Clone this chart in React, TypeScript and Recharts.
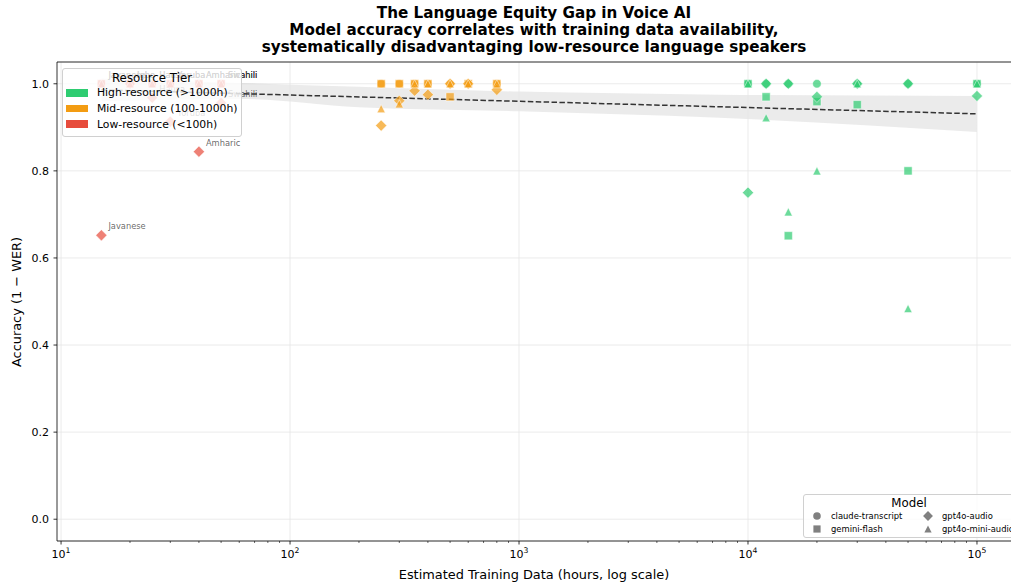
import React from "react";
import {
  ComposedChart,
  Area,
  Line,
  Scatter,
  XAxis,
  YAxis,
  CartesianGrid,
  ReferenceLine,
} from "recharts";

// languages, ordered by estimated training hours
const languages = [
  "Javanese", "Igbo", "Hausa", "Yoruba", "Amharic", "Swahili",
  "Tamil", "Urdu", "Thai", "Vietnamese", "Indonesian", "Turkish", "Korean",
  "Italian", "Portuguese", "Japanese", "Russian", "French", "Spanish", "English",
];
const hours = [
  15, 20, 25, 30, 40, 50,
  250, 300, 350, 400, 500, 600, 800,
  10000, 12000, 15000, 20000, 30000, 50000, 100000,
];
const tiers = [
  "low", "low", "low", "low", "low", "low",
  "mid", "mid", "mid", "mid", "mid", "mid", "mid",
  "high", "high", "high", "high", "high", "high", "high",
];

// accuracy (1 - WER) per model
const claudeAcc = [1, 1, 1, 1, 1, 1, 1, 1, 1, 1, 1, 1, 1, 1, 1, 1, 1, 1, 1, 1];
const geminiAcc = [1, 1, 1, 1, 1, 1, 1, 1, 1, 1, 0.97, 1, 1, 1, 0.97, 0.651, 0.959, 0.952, 0.8, 1];
const gpt4oAcc = [0.652, 1, 0.968, 0.913, 0.844, 0.956, 0.904, 0.961, 0.984, 0.975, 1, 1, 0.986, 0.75, 1, 1, 0.97, 1, 1, 0.972];
const miniAcc = [1, 1, 1, 1, 1, 1, 0.943, 0.954, 1, 1, 1, 1, 1, 1, 0.922, 0.706, 0.8, 1, 0.484, 1];

// trend line and its confidence band
const trendHours = [15, 100000];
const trendAcc = [0.986, 0.931];
const bandHours = [15, 60, 200, 1000, 7500, 100000];
const bandLow = [0.96, 0.965, 0.946, 0.937, 0.922, 0.889];
const bandHigh = [1.012, 1.002, 0.993, 0.982, 0.975, 0.972];

const xTicks = [
  10, 20, 30, 40, 50, 60, 70, 80, 90,
  100, 200, 300, 400, 500, 600, 700, 800, 900,
  1000, 2000, 3000, 4000, 5000, 6000, 7000, 8000, 9000,
  10000, 20000, 30000, 40000, 50000, 60000, 70000, 80000, 90000,
  100000,
];
const yTicks = [0, 0.2, 0.4, 0.6, 0.8, 1.0];

const tierColors: Record<string, string> = {
  high: "#2ecc71",
  mid: "#f39c12",
  low: "#e74c3c",
};

const FONT = "'DejaVu Sans', sans-serif";

const markerPath = (kind: string, cx: number, cy: number, s: number) => {
  if (kind === "square") {
    const h = s * 0.95;
    return `M${cx - h},${cy - h}H${cx + h}V${cy + h}H${cx - h}Z`;
  }
  if (kind === "diamond") {
    const h = s * 1.3;
    return `M${cx},${cy - h}L${cx + h},${cy}L${cx},${cy + h}L${cx - h},${cy}Z`;
  }
  if (kind === "triangle") {
    const h = s * 0.95;
    return `M${cx},${cy - h}L${cx + h},${cy + h}L${cx - h},${cy + h}Z`;
  }
  return `M${cx - s},${cy}a${s},${s} 0 1,0 ${2 * s},0a${s},${s} 0 1,0 ${-2 * s},0`;
};

const makeShape = (kind: string) => (props: any) => {
  const { cx, cy, payload } = props;
  if (cx == null || cy == null) return <g />;
  const color = tierColors[payload.tier];
  return (
    <g>
      <path
        d={markerPath(kind, cx, cy, 4.3)}
        fill={color}
        fillOpacity={0.7}
        stroke="#fff"
        strokeWidth={0.5}
      />
      {payload.tier === "low" && (
        <text
          x={cx + 7}
          y={cy - 6}
          fontSize={8.3}
          fontFamily={FONT}
          fill="#333"
          fillOpacity={0.75}
        >
          {payload.language}
        </text>
      )}
    </g>
  );
};

const XTick = (props: any) => {
  const { x, y, payload } = props;
  const lg = Math.log10(payload.value);
  const exp = Math.round(lg);
  const major = Math.abs(lg - exp) < 1e-9;
  return (
    <g>
      <line x1={x} x2={x} y1={y} y2={y + (major ? 3.5 : 2)} stroke="#000" strokeWidth={major ? 0.8 : 0.6} />
      {major && (
        <text x={x} y={y + 17} textAnchor="middle" fontSize={11} fontFamily={FONT} fill="#000">
          10
          <tspan dy={-5} fontSize={7.7}>
            {exp}
          </tspan>
        </text>
      )}
    </g>
  );
};

const buildPoints = (acc: number[]) =>
  languages.map((language, i) => ({
    language,
    hours: hours[i],
    acc: acc[i],
    tier: tiers[i],
  }));

const models = [
  { name: "claude-transcript", kind: "circle", acc: claudeAcc },
  { name: "gemini-flash", kind: "square", acc: geminiAcc },
  { name: "gpt4o-audio", kind: "diamond", acc: gpt4oAcc },
  { name: "gpt4o-mini-audio", kind: "triangle", acc: miniAcc },
];

const tierLegend = [
  { label: "High-resource (>1000h)", tier: "high" },
  { label: "Mid-resource (100-1000h)", tier: "mid" },
  { label: "Low-resource (<100h)", tier: "low" },
];

const bandData = bandHours.map((h, i) => ({ hours: h, band: [bandLow[i], bandHigh[i]] }));
const trendData = trendHours.map((h, i) => ({ hours: h, trend: trendAcc[i] }));

const MiniMarker = ({ kind }: { kind: string }) => (
  <svg width={12} height={10} style={{ display: "block" }}>
    <path d={markerPath(kind, 6, 5, 3.8)} fill="#808080" />
  </svg>
);

export default function App() {
  return (
    <div
      style={{
        position: "absolute",
        left: 0,
        top: 0,
        width: 1011,
        height: 585,
        overflow: "hidden",
        background: "#fff",
        fontFamily: FONT,
      }}
    >
      <div
        style={{
          position: "absolute",
          left: 57,
          top: 5,
          width: 954,
          textAlign: "center",
          fontWeight: "bold",
          fontSize: 15.2,
          lineHeight: "17px",
          color: "#000",
        }}
      >
        <div>The Language Equity Gap in Voice AI</div>
        <div>Model accuracy correlates with training data availability,</div>
        <div>systematically disadvantaging low-resource language speakers</div>
      </div>

      <ComposedChart
        width={1011}
        height={585}
        data={bandData}
        margin={{ top: 62, right: 0, bottom: 0, left: 0 }}
      >
        <CartesianGrid vertical={false} stroke="#e6e6e6" strokeWidth={0.8} />
        {[10, 100, 1000, 10000, 100000].map((v) => (
          <ReferenceLine key={v} x={v} stroke="#e6e6e6" strokeWidth={0.8} />
        ))}
        <XAxis
          dataKey="hours"
          type="number"
          scale="log"
          domain={[9.6, 140800]}
          allowDataOverflow
          ticks={xTicks}
          interval={0}
          tick={<XTick />}
          tickLine={false}
          tickSize={0}
          tickMargin={0}
          height={44}
          axisLine={{ stroke: "#000", strokeWidth: 0.8 }}
        />
        <YAxis
          dataKey="acc"
          type="number"
          domain={[-0.05, 1.05]}
          allowDataOverflow
          ticks={yTicks}
          interval={0}
          width={57}
          tickSize={3.5}
          tickMargin={4.5}
          tickFormatter={(v: number) => v.toFixed(1)}
          tick={{ fontSize: 11, fill: "#000", fontFamily: FONT }}
          tickLine={{ stroke: "#000", strokeWidth: 0.8 }}
          axisLine={{ stroke: "#000", strokeWidth: 0.8 }}
        />
        <ReferenceLine y={1.05} stroke="#000" strokeWidth={0.8} />
        <Area
          dataKey="band"
          type="monotone"
          fill="#999"
          fillOpacity={0.2}
          stroke="none"
          isAnimationActive={false}
          activeDot={false}
        />
        {models.map((m) => (
          <Scatter
            key={m.name}
            name={m.name}
            data={buildPoints(m.acc)}
            shape={makeShape(m.kind)}
            isAnimationActive={false}
          />
        ))}
        <Line
          data={trendData}
          dataKey="trend"
          type="linear"
          stroke="#333"
          strokeWidth={1.5}
          strokeDasharray="5.5 2.4"
          dot={false}
          activeDot={false}
          isAnimationActive={false}
        />
      </ComposedChart>

      <div
        style={{
          position: "absolute",
          left: 62,
          top: 68,
          width: 178,
          height: 67,
          border: "1px solid #d0d0d0",
          borderRadius: 3,
          background: "rgba(255,255,255,0.8)",
        }}
      >
        <div style={{ textAlign: "center", fontSize: 11.8, lineHeight: "14px", marginTop: 2 }}>
          Resource Tier
        </div>
        {tierLegend.map((t) => (
          <div
            key={t.tier}
            style={{ display: "flex", alignItems: "center", height: 15.7, fontSize: 10.8 }}
          >
            <div
              style={{
                width: 22,
                height: 7.5,
                marginLeft: 3,
                marginRight: 9,
                background: tierColors[t.tier],
              }}
            />
            <span>{t.label}</span>
          </div>
        ))}
      </div>

      <div
        style={{
          position: "absolute",
          left: 803,
          top: 494,
          width: 210,
          height: 42,
          border: "1px solid #d0d0d0",
          borderRadius: 3,
          background: "rgba(255,255,255,0.8)",
        }}
      >
        <div style={{ textAlign: "center", fontSize: 11.8, lineHeight: "14px", marginTop: 1 }}>
          Model
        </div>
        <div style={{ display: "grid", gridTemplateColumns: "112px 98px", rowGap: 0 }}>
          {models.map((m, i) => (
            <div
              key={m.name}
              style={{
                display: "flex",
                alignItems: "center",
                height: 12.8,
                fontSize: 8.4,
                gridColumn: i < 2 ? 1 : 2,
                gridRow: (i % 2) + 1,
              }}
            >
              <div style={{ marginLeft: i < 2 ? 7 : 6, marginRight: i < 2 ? 8 : 8 }}>
                <MiniMarker kind={m.kind} />
              </div>
              <span style={{ whiteSpace: "nowrap" }}>{m.name}</span>
            </div>
          ))}
        </div>
      </div>

      <div
        style={{
          position: "absolute",
          left: 57,
          top: 567,
          width: 954,
          textAlign: "center",
          fontSize: 12.9,
          lineHeight: "16px",
        }}
      >
        Estimated Training Data (hours, log scale)
      </div>
      <div
        style={{
          position: "absolute",
          left: 17,
          top: 302,
          transform: "translate(-50%, -50%) rotate(-90deg)",
          whiteSpace: "nowrap",
          fontSize: 12.9,
          lineHeight: "16px",
        }}
      >
        Accuracy (1 − WER)
      </div>
    </div>
  );
}
